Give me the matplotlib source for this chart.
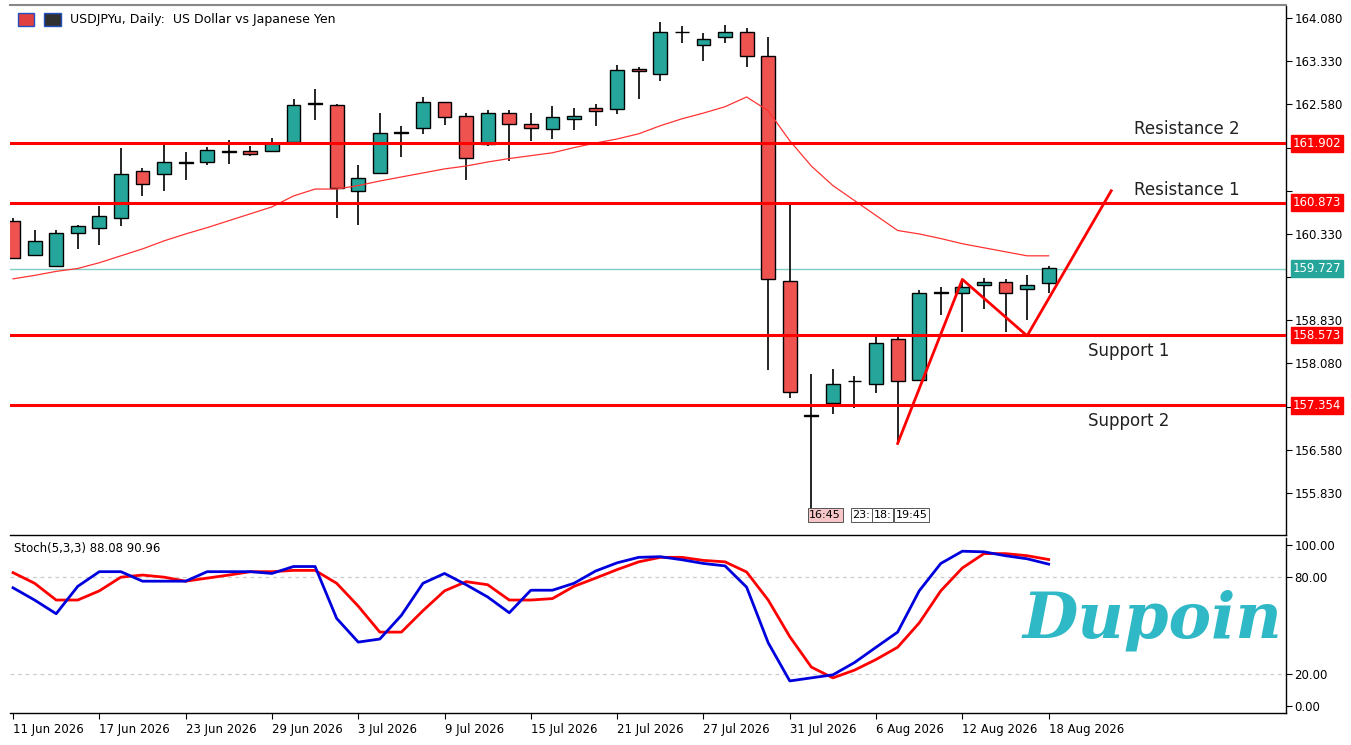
import matplotlib
matplotlib.use("Agg")
import matplotlib.pyplot as plt
import numpy as np

opens  = [160.56,159.97,159.78,160.35,160.44,160.61,161.43,161.38,161.57,161.58,161.76,161.77,161.77,161.93,162.59,162.57,
          161.08,161.39,162.09,162.17,162.62,162.38,161.90,162.43,162.24,162.16,162.33,162.52,162.50,163.20,163.11,163.84,
          163.61,163.75,163.84,163.42,159.52,157.18,157.39,157.77,157.72,158.51,157.80,159.31,159.30,159.45,159.50,159.38,159.48]
highs  = [160.60,160.40,160.40,160.49,160.82,161.83,161.48,161.91,161.76,161.84,161.96,161.86,162.00,162.68,162.85,162.58,
          161.53,162.43,162.21,162.71,162.63,162.43,162.49,162.49,162.43,162.55,162.52,162.59,163.27,163.23,164.01,163.94,
          163.82,163.96,163.91,163.75,160.87,157.89,157.98,157.87,158.57,158.55,159.36,159.40,159.54,159.57,159.54,159.61,159.78]
lows   = [159.90,159.95,159.75,160.06,160.13,160.47,160.99,161.08,161.27,161.53,161.55,161.69,161.76,161.93,162.31,160.61,
          160.49,161.67,161.67,162.07,162.22,161.27,161.86,161.60,161.95,161.98,162.14,162.21,162.42,162.68,162.99,163.65,
          163.33,163.65,163.23,157.96,157.48,155.50,157.21,157.30,157.56,156.69,157.80,158.93,158.62,159.02,158.62,158.83,159.31]
closes = [159.92,160.21,160.35,160.46,160.65,161.38,161.20,161.58,161.56,161.79,161.77,161.72,161.91,162.57,162.60,161.12,
          161.31,162.09,162.10,162.62,162.36,161.65,162.43,162.24,162.17,162.36,162.38,162.47,163.18,163.16,163.84,163.83,
          163.72,163.84,163.42,159.55,157.58,157.17,157.73,157.78,158.44,157.77,159.30,159.32,159.40,159.50,159.30,159.45,159.73]
ma = [159.55,159.61,159.68,159.73,159.83,159.95,160.07,160.21,160.33,160.44,160.56,160.68,160.80,160.99,161.11,161.11,
      161.17,161.25,161.32,161.39,161.46,161.51,161.58,161.64,161.69,161.74,161.83,161.91,161.98,162.07,162.21,162.33,
      162.43,162.54,162.71,162.47,161.95,161.51,161.17,160.91,160.65,160.39,160.33,160.25,160.16,160.09,160.02,159.95,159.95]
stoch_k = [73.4,65.8,57.3,74.3,83.4,83.4,77.5,77.5,77.5,83.4,83.4,83.4,82.3,86.6,86.6,54.4,39.7,41.6,56.3,76.2,82.3,75.3,
           67.7,57.9,71.9,71.9,76.2,83.8,88.9,92.3,92.7,90.8,88.5,87.0,73.8,39.3,15.6,17.5,19.4,27.0,36.5,45.9,71.5,88.5,
           96.1,95.7,93.3,91.4,88.08]
stoch_d = [82.8,76.2,65.8,65.8,71.5,80.0,81.3,80.0,77.5,79.4,81.3,83.4,83.4,84.2,84.2,76.2,62.0,45.9,45.9,59.2,71.5,77.2,
           75.3,65.8,65.8,66.7,74.3,79.4,84.7,89.5,92.3,92.3,90.4,89.5,83.2,65.8,43.1,24.2,17.5,22.3,28.9,36.5,51.6,71.5,
           85.7,94.6,94.6,93.3,90.96]
date_idx = [0,4,8,12,16,20,24,28,32,36,40,44,48]
date_labels = ["11 Jun 2026","17 Jun 2026","23 Jun 2026","29 Jun 2026","3 Jul 2026","9 Jul 2026","15 Jul 2026",
               "21 Jul 2026","27 Jul 2026","31 Jul 2026","6 Aug 2026","12 Aug 2026","18 Aug 2026"]
levels = [161.902,160.873,158.573,157.354]
level_names = ["Resistance 2","Resistance 1","Support 1","Support 2"]
last_price = 159.727
zz_x = [41,44,47,50.9]
zz_y = [156.69,159.54,158.56,161.08]
price_ticks = [155.83,156.58,157.33,158.08,158.83,159.58,160.33,161.08,161.83,162.58,163.33,164.08]
hidden_ticks = [157.33,159.58,161.08,161.83]

W,H = 1351,745
fig = plt.figure(figsize=(W/100,H/100),dpi=100)
GREEN="#26a69a"; RED="#ef5350"
ax = fig.add_axes([10/W,1-535/H,1276/W,529/H])
ax2 = fig.add_axes([10/W,1-713/H,1276/W,175/H])
x = np.arange(len(opens))
for a in (ax,ax2):
    a.set_xlim(-0.14,59)
    for s in ("left","top"):
        a.spines[s].set_visible(False)
    a.spines["right"].set_linewidth(1.0)
    a.spines["bottom"].set_linewidth(1.0)
    a.yaxis.tick_right()
    a.tick_params(axis="y",direction="out",length=4,labelsize=8.5,pad=2)
ax.set_ylim(155.10,164.29)
ax.set_xticks([])
ax.set_yticks(price_ticks)
ax.set_yticklabels(["" if v in hidden_ticks else f"{v:.3f}" for v in price_ticks])
fig.add_artist(plt.Line2D([10/W,1286/W],[1-5/H,1-5/H],color="#888888",lw=1.5))

for i in x:
    o,h,l,c = opens[i],highs[i],lows[i],closes[i]
    col = GREEN if c>=o else RED
    ax.vlines(i,l,h,color="black",lw=1.2,zorder=2)
    bot = min(o,c); ht = max(abs(c-o),0.012)
    ax.bar(i,ht,bottom=bot,width=0.64,color=col,edgecolor="black",lw=1.0,zorder=3)
ax.plot(x,ma,color="#ff3333",lw=0.9,zorder=4)
for lv,nm in zip(levels,level_names):
    ax.axhline(lv,color="#ff0000",lw=2.2,zorder=5)
    ax.text(1.005,lv,f"{lv:.3f}",transform=ax.get_yaxis_transform(),va="center",ha="left",fontsize=8.5,
            color="white",bbox=dict(boxstyle="square,pad=0.15",fc="#ff0000",ec="#ff0000"),zorder=10,clip_on=False)
ax.axhline(last_price,color="#7fcfc4",lw=1.0,zorder=1)
ax.text(1.005,last_price,f"{last_price:.3f}",transform=ax.get_yaxis_transform(),va="center",ha="left",fontsize=8.5,
        color="white",bbox=dict(boxstyle="square,pad=0.15",fc="#26a69a",ec="#26a69a"),zorder=10,clip_on=False)
ax.text(54.4,levels[0]+0.25,level_names[0],ha="center",va="center",fontsize=12,color="#222222")
ax.text(54.4,levels[1]+0.22,level_names[1],ha="center",va="center",fontsize=12,color="#222222")
ax.text(51.7,levels[2]-0.27,level_names[2],ha="center",va="center",fontsize=12,color="#222222")
ax.text(51.7,levels[3]-0.27,level_names[3],ha="center",va="center",fontsize=12,color="#222222")
ax.plot(zz_x,zz_y,color="#ff0000",lw=2.0,zorder=6)
ax.text(0.047,0.975,"USDJPYu, Daily:  US Dollar vs Japanese Yen",transform=ax.transAxes,fontsize=9,va="center")
ax.add_patch(plt.Rectangle((0.006,0.962),0.013,0.024,transform=ax.transAxes,fc="#e04040",ec="#2050c0",lw=1))
ax.add_patch(plt.Rectangle((0.027,0.962),0.013,0.024,transform=ax.transAxes,fc="#303030",ec="#2050c0",lw=1))
for tx,tl,fc in [(36.9,"16:45","#f7c6c8"),(38.9,"23:","white"),(39.9,"18:","white"),(40.9,"19:45","white")]:
    ax.text(tx,155.45,tl,ha="left",va="center",fontsize=8,bbox=dict(boxstyle="square,pad=0.15",fc=fc,ec="#555555",lw=0.7),zorder=8)

ax2.set_ylim(-4.3,104.3)
ax2.set_yticks([0,20,80,100])
ax2.set_yticklabels(["0.00","20.00","80.00","100.00"])
for lv in (20,80):
    ax2.axhline(lv,color="#cccccc",lw=0.9,ls=(0,(3,3)))
ax2.plot(x,stoch_k,color="#0000dd",lw=2.0,zorder=4)
ax2.plot(x,stoch_d,color="#ff0000",lw=2.0,zorder=3)
ax2.text(0.003,0.94,"Stoch(5,3,3) 88.08 90.96",transform=ax2.transAxes,fontsize=8.5,va="center")
ax2.set_xticks(date_idx)
ax2.set_xticklabels(date_labels,ha="left",fontsize=8.5)
ax2.tick_params(axis="x",direction="out",length=4,pad=3)
fig.text(1152/W,1-620/H,"Dupoin",fontsize=46,color="#2fb8c6",ha="center",va="center",
         fontstyle="italic",fontweight="bold",family="DejaVu Serif")
fig.savefig("out.png",dpi=100)
